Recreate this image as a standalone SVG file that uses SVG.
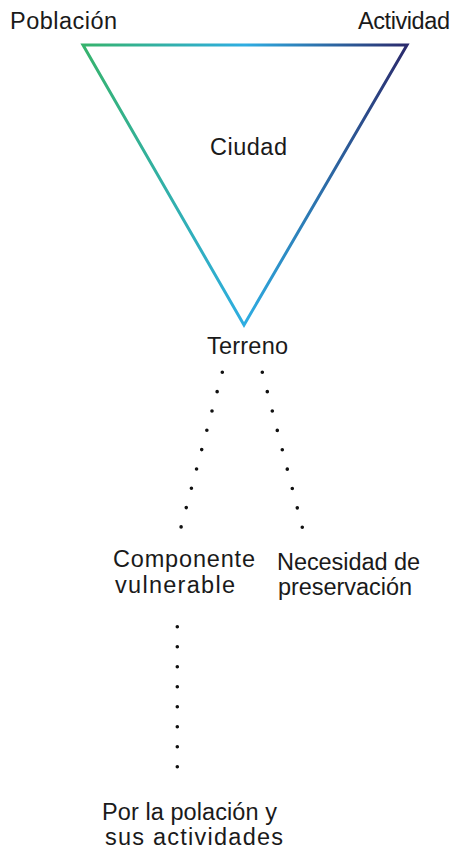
<svg xmlns="http://www.w3.org/2000/svg" width="453" height="849" viewBox="0 0 453 849">
  <style>
    text { font-family: "Liberation Sans", Arial, sans-serif; font-size: 23.5px; fill: #1a1a1a; }
    .dots { fill: none; stroke: #111; stroke-width: 3.6; stroke-linecap: round; stroke-dasharray: 0 20; }
  </style>
  <defs>
    <linearGradient id="tri" gradientUnits="userSpaceOnUse" x1="83" y1="0" x2="407" y2="0">
      <stop offset="0" stop-color="#36b36c"/>
      <stop offset="0.5" stop-color="#2eade2"/>
      <stop offset="1" stop-color="#2b2a6c"/>
    </linearGradient>
  </defs>
  <rect width="453" height="849" fill="#ffffff"/>
  <g id="triangle">
    <polygon points="83,45 407,45 244,325" fill="none" stroke="url(#tri)" stroke-width="3" stroke-linejoin="miter"/>
  </g>
  <g id="poblacion"><text x="10" y="29" textLength="107" lengthAdjust="spacing">Población</text></g>
  <g id="actividad"><text x="358" y="29" textLength="92" lengthAdjust="spacing">Actividad</text></g>
  <g id="ciudad"><text x="210" y="155" textLength="77" lengthAdjust="spacing">Ciudad</text></g>
  <g id="terreno"><text x="207" y="354" textLength="81" lengthAdjust="spacing">Terreno</text></g>
  <g id="componente">
    <text x="113" y="567" textLength="142" lengthAdjust="spacing">Componente</text>
    <text x="115" y="593" textLength="120" lengthAdjust="spacing">vulnerable</text>
  </g>
  <g id="necesidad">
    <text x="277" y="570" textLength="143" lengthAdjust="spacing">Necesidad de</text>
    <text x="278" y="595" textLength="134" lengthAdjust="spacing">preservación</text>
  </g>
  <g id="poblacion-actividades">
    <text x="102" y="820" textLength="175" lengthAdjust="spacing">Por la polación y</text>
    <text x="105" y="845" textLength="178" lengthAdjust="spacing">sus actividades</text>
  </g>
  <g id="connectors">
    <line class="dots" x1="222.3" y1="372.3" x2="181" y2="527.3"/>
    <line class="dots" x1="262.3" y1="372.3" x2="302.3" y2="527.3"/>
    <line class="dots" x1="177.3" y1="626.7" x2="177.3" y2="786.7"/>
  </g>
</svg>
